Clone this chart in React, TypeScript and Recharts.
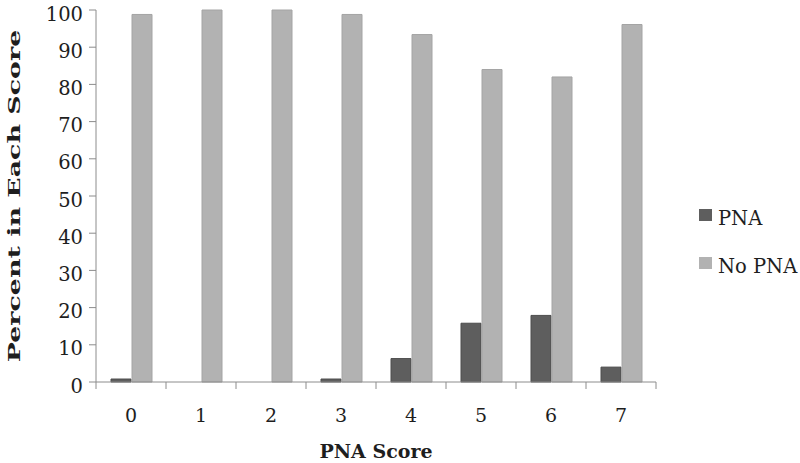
import { Bar, BarChart, Legend, XAxis, YAxis } from 'recharts';

const scores = ['0', '1', '2', '3', '4', '5', '6', '7'];
const pnaValues = [0.8, 0, 0, 0.8, 6.3, 15.8, 17.9, 4];
const noPnaValues = [98.8, 100, 100, 98.8, 93.4, 84, 82, 96.1];
const yTicks = [0, 10, 20, 30, 40, 50, 60, 70, 80, 90, 100];
const legendOrder = ['PNA', 'No PNA'];

const data = scores.map((score, i) => ({
  score,
  pna: pnaValues[i],
  noPna: noPnaValues[i],
}));

const COLORS = {
  pna: '#5e5e5e',
  pnaStroke: '#4c4c4c',
  noPna: '#b2b2b2',
  noPnaStroke: '#a4a4a4',
  axis: '#8c8c8c',
  text: '#1e1e1e',
};

const FONT = '"DejaVu Serif", serif';
const CHART_W = 800;
const CHART_H = 463;
const Y_AXIS_W = 96;
const MARGIN = { top: 10, right: 144, left: 0, bottom: 0 };
const PLOT_W = CHART_W - Y_AXIS_W - MARGIN.left - MARGIN.right;

function ScoreTick(props: any) {
  const { x, y, payload, index } = props;
  const half = PLOT_W / scores.length / 2;
  const last = index === scores.length - 1;
  return (
    <g>
      <line x1={x - half} y1={y} x2={x - half} y2={y + 7} stroke={COLORS.axis} />
      {last && <line x1={x + half} y1={y} x2={x + half} y2={y + 7} stroke={COLORS.axis} />}
      <text x={x} y={y + 40} textAnchor="middle" fontFamily={FONT} fontSize={19} fill={COLORS.text}>
        {payload.value}
      </text>
    </g>
  );
}

function PercentTick(props: any) {
  const { x, y, payload } = props;
  return (
    <text
      x={x}
      y={y + 4}
      textAnchor="end"
      dominantBaseline="central"
      fontFamily={FONT}
      fontSize={19.5}
      fill={COLORS.text}
    >
      {payload.value}
    </text>
  );
}

function SideLegend({ payload }: any) {
  const items = [...(payload || [])].sort(
    (a: any, b: any) => legendOrder.indexOf(a.value) - legendOrder.indexOf(b.value)
  );
  return (
    <svg width={101} height={80} style={{ overflow: 'visible' }}>
      {items.map((item: any, i: number) => (
        <g key={item.value} transform={`translate(0, ${i * 48})`}>
          <rect x={0} y={4} width={13} height={12} fill={item.color} />
          <text x={19} y={20} fontFamily={FONT} fontSize={19.5} fill={COLORS.text}>
            {item.value}
          </text>
        </g>
      ))}
    </svg>
  );
}

export default function App() {
  return (
    <div style={{ position: 'absolute', left: 0, top: 0, background: '#fff' }}>
      <BarChart
        width={CHART_W}
        height={CHART_H}
        data={data}
        margin={MARGIN}
        barSize={20}
        barGap={1}
      >
        <XAxis
          dataKey="score"
          height={81}
          tickLine={false}
          tickSize={0}
          tickMargin={0}
          axisLine={{ stroke: COLORS.axis }}
          tick={<ScoreTick />}
          interval={0}
          label={{
            value: 'PNA Score',
            position: 'insideBottom',
            offset: 5,
            fontFamily: FONT,
            fontSize: 19,
            fontWeight: 'bold',
            fill: COLORS.text,
          }}
        />
        <YAxis
          width={Y_AXIS_W}
          domain={[0, 100]}
          ticks={yTicks}
          interval={0}
          tickSize={7}
          tickMargin={6}
          axisLine={{ stroke: COLORS.axis }}
          tickLine={{ stroke: COLORS.axis }}
          tick={<PercentTick />}
          label={({ viewBox }: any) => (
            <text
              transform={`translate(14, ${viewBox.y + viewBox.height / 2}) rotate(-90) scale(1.58, 1)`}
              textAnchor="middle"
              dominantBaseline="central"
              fontFamily={FONT}
              fontSize={17}
              fontWeight="bold"
              fill={COLORS.text}
            >
              Percent in Each Score
            </text>
          )}
        />
        <Legend
          content={<SideLegend />}
          wrapperStyle={{
            position: 'absolute',
            left: 699,
            top: 205,
            width: 0,
            height: 0,
            overflow: 'visible',
          }}
        />
        <Bar
          dataKey="pna"
          name="PNA"
          fill={COLORS.pna}
          stroke={COLORS.pnaStroke}
          isAnimationActive={false}
        />
        <Bar
          dataKey="noPna"
          name="No PNA"
          fill={COLORS.noPna}
          stroke={COLORS.noPnaStroke}
          isAnimationActive={false}
        />
      </BarChart>
    </div>
  );
}
